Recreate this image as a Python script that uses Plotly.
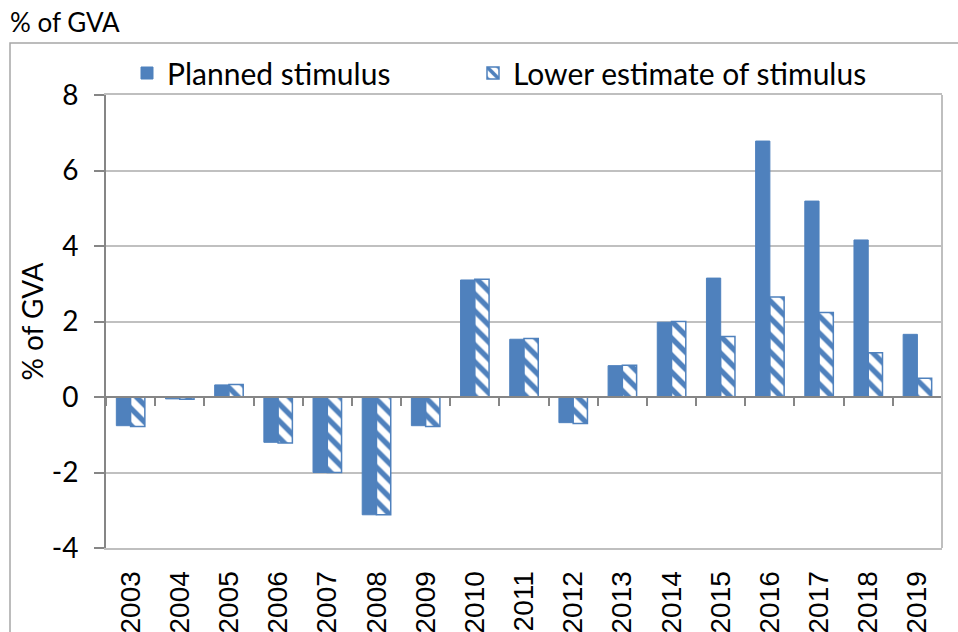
import plotly.graph_objects as go

# Fiscal stimulus, % of GVA, by year
years = ["2003", "2004", "2005", "2006", "2007", "2008", "2009", "2010", "2011",
         "2012", "2013", "2014", "2015", "2016", "2017", "2018", "2019"]
planned = [-0.76, -0.05, 0.32, -1.20, -2.00, -3.12, -0.76, 3.10, 1.53,
           -0.68, 0.83, 1.98, 3.15, 6.78, 5.19, 4.16, 1.66]
lower = [-0.78, -0.06, 0.33, -1.22, -2.00, -3.12, -0.78, 3.12, 1.55,
         -0.70, 0.84, 2.00, 1.60, 2.65, 2.24, 1.17, 0.50]

y_ticks = [-4, -2, 0, 2, 4, 6, 8]
series_names = ["Planned stimulus", "Lower estimate of stimulus"]

BLUE = "#4F81BD"
CAL = "Lato, 'Open Sans', sans-serif"
ARIAL = "'Liberation Sans', Arial, sans-serif"

# plot-area geometry in pixels
W, H = 958, 632
L, R, T, B = 106, 16, 95, 84
pw, ph = W - L - R, H - T - B


def px(x):
    return (x - L) / pw


def py(y):
    return (H - B - y) / ph


fig = go.Figure()
fig.add_trace(go.Bar(
    x=years, y=planned, name=series_names[0], legend="legend",
    marker=dict(color=BLUE, line=dict(color=BLUE, width=1)),
))
fig.add_trace(go.Bar(
    x=years, y=lower, name=series_names[1], legend="legend2",
    marker=dict(color="white", line=dict(color=BLUE, width=1.5),
                pattern=dict(shape="\\", fgcolor=BLUE, bgcolor="white",
                             size=12, solidity=0.45, fillmode="replace")),
))
# carrier for the zero-crossing category axis with boundary ticks
fig.add_trace(go.Scatter(
    x=years, y=planned, xaxis="x2", mode="lines",
    line=dict(width=0), opacity=0, showlegend=False, hoverinfo="skip",
))

legend_style = dict(
    orientation="h", xanchor="left", yanchor="middle", y=py(73),
    font=dict(family=CAL, size=30, color="black"),
    bgcolor="rgba(0,0,0,0)", itemclick=False,
)

fig.update_layout(
    width=W, height=H,
    margin=dict(l=L, r=R, t=T, b=B),
    paper_bgcolor="white", plot_bgcolor="white",
    barmode="group", bargap=0.42, bargroupgap=0.0,
    showlegend=True,
    legend=dict(x=px(127), **legend_style),
    legend2=dict(x=px(473), **legend_style),
    xaxis=dict(
        type="category", range=[-0.5, 16.5], automargin=False,
        showgrid=False, showline=True, linecolor="#BFBFBF", linewidth=2,
        mirror=True, ticks="", tickangle=-90,
        tickfont=dict(family=ARIAL, size=28, color="black"),
        ticklabelstandoff=10,
    ),
    xaxis2=dict(
        type="category", range=[-0.5, 16.5], overlaying="x",
        anchor="free", position=1 / 3, side="bottom",
        showgrid=False, showline=True, linecolor="#868686", linewidth=2,
        ticks="outside", tickson="boundaries", ticklen=8, tickwidth=2,
        tickcolor="#868686", showticklabels=False,
    ),
    yaxis=dict(
        range=[-4, 8], tickvals=y_ticks, ticktext=[str(v) for v in y_ticks],
        automargin=False,
        showgrid=True, gridcolor="#C0C0C0", gridwidth=2,
        zeroline=False,
        showline=True, linecolor="#868686", linewidth=2,
        ticks="outside", ticklen=10, tickwidth=2, tickcolor="#868686",
        tickfont=dict(family=CAL, size=28, color="black"),
        ticklabelstandoff=10,
        title=dict(text="% of GVA", font=dict(family=CAL, size=28, color="black"),
                   standoff=0),
    ),
    annotations=[dict(
        text="% of GVA", xref="paper", yref="paper",
        x=px(8), y=py(22), xanchor="left", yanchor="middle",
        showarrow=False, font=dict(family=CAL, size=26, color="black"),
    )],
    shapes=[
        # plot-area right border
        dict(type="line", xref="paper", yref="paper", x0=1, x1=1, y0=0, y1=1,
             line=dict(color="#BFBFBF", width=2)),
        # chart frame
        dict(type="rect", xref="paper", yref="paper",
             x0=px(10), x1=px(965), y0=py(645), y1=py(43),
             line=dict(color="#A6A6A6", width=1.5), layer="below"),
    ],
)

fig.write_html("out.html")
